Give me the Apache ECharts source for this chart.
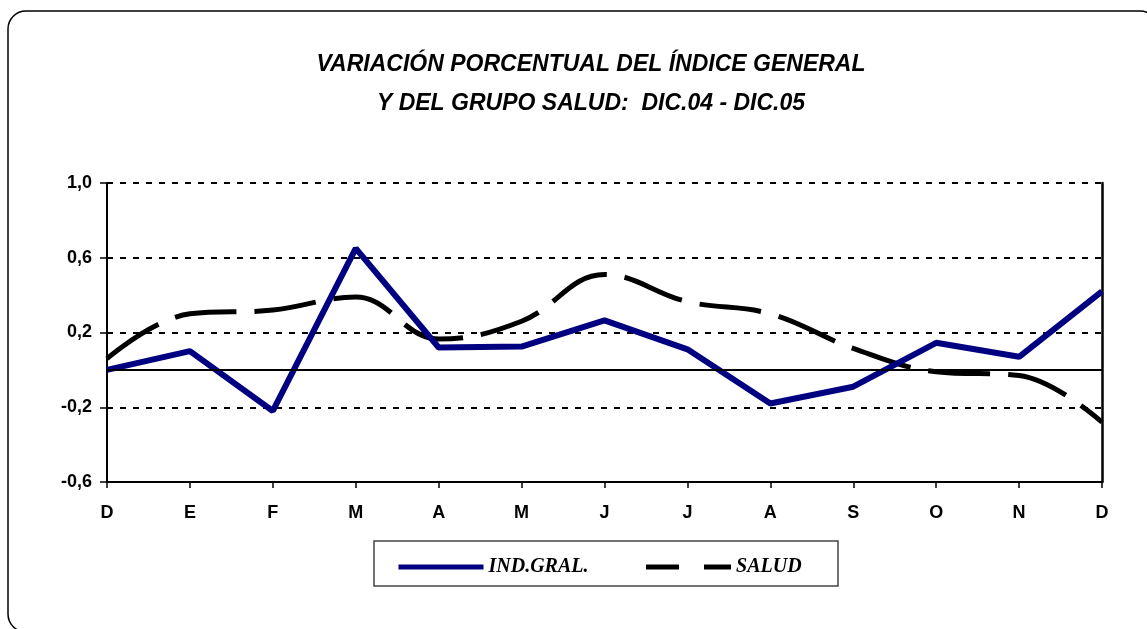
<!DOCTYPE html>
<html>
<head>
<meta charset="utf-8">
<script src="https://cdn.jsdelivr.net/npm/echarts@6/dist/echarts.min.js"></script>
<style>
  html, body { margin: 0; padding: 0; background: #fff; }
  #main { width: 1147px; height: 629px; }
</style>
</head>
<body>
<div id="main"></div>
<script>
// meses dic.04 - dic.05
const months = ['D', 'E', 'F', 'M', 'A', 'M', 'J', 'J', 'A', 'S', 'O', 'N', 'D'];
const indGral = [0.0, 0.1, -0.22, 0.65, 0.12, 0.125, 0.265, 0.11, -0.18, -0.09, 0.145, 0.07, 0.42];
const salud = [0.06, 0.30, 0.32, 0.39, 0.165, 0.26, 0.51, 0.365, 0.30, 0.115, -0.01, -0.03, -0.28];
const yTicks = { min: -0.6, max: 1.0, step: 0.4 };

const chart = echarts.init(document.getElementById('main'));

const fmt = v => v.toFixed(1).replace('.', ',');

chart.setOption({
  backgroundColor: '#fff',
  animation: false,
  title: {
    text: 'VARIACIÓN PORCENTUAL DEL ÍNDICE GENERAL\nY DEL GRUPO SALUD:  DIC.04 - DIC.05',
    left: 586,
    textAlign: 'center',
    top: 40,
    textStyle: {
      fontFamily: 'Liberation Sans',
      fontStyle: 'italic',
      fontWeight: 'bold',
      fontSize: 23,
      lineHeight: 39,
      color: '#000'
    }
  },
  grid: { left: 107, right: 45, top: 183, bottom: 147 },
  legend: {
    left: 391,
    top: 552,
    itemWidth: 85,
    itemHeight: 14,
    itemGap: 55,
    itemStyle: { opacity: 0 },
    textStyle: {
      fontFamily: 'Liberation Serif',
      fontStyle: 'italic',
      fontWeight: 'bold',
      fontSize: 20,
      color: '#000'
    },
    data: [
      { name: 'IND.GRAL.', lineStyle: { width: 5, type: 'solid' } },
      { name: 'SALUD', lineStyle: { width: 5, type: [33, 25] } }
    ]
  },
  graphic: [
    {
      type: 'rect',
      shape: { x: 8, y: 11, width: 1150, height: 621, r: 18 },
      style: { fill: 'none', stroke: '#000', lineWidth: 1.5 },
      silent: true
    },
    {
      type: 'rect',
      shape: { x: 374, y: 541, width: 464, height: 45 },
      style: { fill: 'none', stroke: '#444', lineWidth: 1.5 },
      silent: true
    }
  ],
  xAxis: {
    type: 'category',
    data: months,
    boundaryGap: false,
    axisLine: { onZero: false, lineStyle: { color: '#000', width: 2 } },
    axisTick: { show: true, length: 6, lineStyle: { color: '#000', width: 1.5 } },
    axisLabel: {
      margin: 22,
      fontFamily: 'Liberation Sans',
      fontWeight: 'bold',
      fontSize: 18,
      color: '#000'
    },
    splitLine: { show: false }
  },
  yAxis: [
    {
      type: 'value',
      min: yTicks.min,
      max: yTicks.max,
      interval: yTicks.step,
      axisLine: { show: true, lineStyle: { color: '#000', width: 2 } },
      axisTick: { show: true, length: 7, lineStyle: { color: '#000', width: 1.5 } },
      axisLabel: {
        margin: 15,
        formatter: fmt,
        fontFamily: 'Liberation Sans',
        fontWeight: 'bold',
        fontSize: 18,
        color: '#000'
      },
      splitLine: { show: true, lineStyle: { color: '#000', width: 2, type: [6, 7] } }
    },
    {
      type: 'value',
      position: 'right',
      min: yTicks.min,
      max: yTicks.max,
      interval: yTicks.step,
      axisLine: { show: true, lineStyle: { color: '#000', width: 2.5 } },
      axisTick: { show: false },
      axisLabel: { show: false },
      splitLine: { show: false }
    }
  ],
  series: [
    {
      name: 'SALUD',
      type: 'line',
      data: salud,
      smooth: 0.4,
      symbol: 'none',
      z: 2,
      color: '#000',
      lineStyle: { color: '#000', width: 5, type: [62, 18] },
      markLine: {
        silent: true,
        symbol: 'none',
        label: { show: false },
        lineStyle: { color: '#000', width: 2, type: 'solid' },
        data: [{ yAxis: 0 }]
      }
    },
    {
      name: 'IND.GRAL.',
      type: 'line',
      data: indGral,
      symbol: 'none',
      z: 3,
      color: '#000080',
      lineStyle: { color: '#000080', width: 6 }
    }
  ]
});
</script>
</body>
</html>
